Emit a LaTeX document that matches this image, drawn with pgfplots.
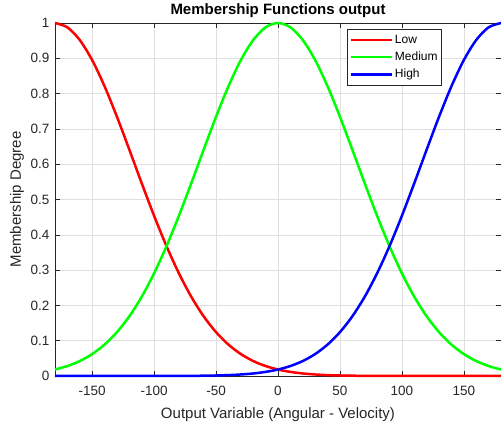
\documentclass[border=0pt]{standalone}
\usepackage{pgfplots}
\pgfplotsset{compat=1.18}
\usepackage{pgfplotstable}
\usepackage{fontspec}
\setmainfont{Liberation Sans}

\definecolor{axgray}{RGB}{38,38,38}
\definecolor{gridgray}{RGB}{223,223,223}
\definecolor{mfred}{RGB}{255,0,0}
\definecolor{mfgreen}{RGB}{0,255,0}
\definecolor{mfblue}{RGB}{0,0,255}

% Gaussian membership functions (sigma about 63.6) sampled every 10 units
\pgfplotstableread{
x     low      med      high
-180  1        0.01832  0
-170  0.98773  0.02822  0
-160  0.95182  0.04240  0
-150  0.89484  0.06218  0
-140  0.82075  0.08894  0
-130  0.73444  0.12413  0
-120  0.64118  0.16901  0.00001
-110  0.54611  0.22451  0.00003
-100  0.45379  0.29096  0.00006
-90   0.36788  0.36788  0.00012
-80   0.29096  0.45379  0.00024
-70   0.22451  0.54611  0.00045
-60   0.16901  0.64118  0.00082
-50   0.12413  0.73444  0.00146
-40   0.08894  0.82075  0.00254
-30   0.06218  0.89484  0.00432
-20   0.04240  0.95182  0.00717
-10   0.02822  0.98773  0.01160
0     0.01832  1        0.01832
10    0.01160  0.98773  0.02822
20    0.00717  0.95182  0.04240
30    0.00432  0.89484  0.06218
40    0.00254  0.82075  0.08894
50    0.00146  0.73444  0.12413
60    0.00082  0.64118  0.16901
70    0.00045  0.54611  0.22451
80    0.00024  0.45379  0.29096
90    0.00012  0.36788  0.36788
100   0.00006  0.29096  0.45379
110   0.00003  0.22451  0.54611
120   0.00001  0.16901  0.64118
130   0        0.12413  0.73444
140   0        0.08894  0.82075
150   0        0.06218  0.89484
160   0        0.04240  0.95182
170   0        0.02822  0.98773
180   0        0.01832  1
}\mfdata

\begin{document}
\begin{tikzpicture}
\useasboundingbox (0pt,0pt) rectangle (501pt,423pt);
\begin{axis}[
  at={(55pt,47pt)}, anchor=south west,
  width=446pt, height=353pt, scale only axis,
  xmin=-180, xmax=180, ymin=0, ymax=1,
  clip=false,
  xtick={-150,-100,-50,0,50,100,150},
  ytick={0,0.1,0.2,0.3,0.4,0.5,0.6,0.7,0.8,0.9,1},
  yticklabels={0,0.1,0.2,0.3,0.4,0.5,0.6,0.7,0.8,0.9,1},
  /pgf/number format/assume math mode=true,
  tick align=inside,
  major tick length=5pt,
  tick style={axgray, line width=0.5pt},
  axis line style={axgray, line width=0.6pt},
  grid=major,
  major grid style={gridgray, line width=0.5pt},
  ticklabel style={font=\fontsize{13.5}{16}\selectfont, text=axgray},
  xticklabel style={yshift=-7pt},
  yticklabel style={xshift=-2pt},
  every axis title shift=0pt,
  title={Membership Functions output},
  title style={font=\fontsize{15}{18}\selectfont\bfseries, at={(axis description cs:0.5,1.034)}, anchor=center},
  xlabel={Output Variable (Angular - Velocity)},
  xlabel style={font=\fontsize{15}{18}\selectfont, text=axgray, at={(axis description cs:0.5,-0.108)}, anchor=center},
  ylabel={Membership Degree},
  ylabel style={font=\fontsize{15}{18}\selectfont, text=axgray, at={(axis description cs:-0.085,0.5)}, anchor=center},
  legend style={at={(axis description cs:0.655,0.983)}, anchor=north west,
    draw=axgray, line width=0.6pt, fill=white,
    font=\fontsize{12}{14}\selectfont,
    inner xsep=2pt, inner ysep=2.5pt,
    row sep=0pt,
    nodes={inner xsep=2pt, inner ysep=3.5pt}},
  legend cell align=left,
  legend image code/.code={\draw[#1] (0pt,0pt) -- (41pt,0pt);},
]
\addplot[mfred, line width=2.5pt, smooth] table[x=x, y=low] {\mfdata};
\addlegendentry{Low}
\addplot[mfgreen, line width=2.5pt, smooth] table[x=x, y=med] {\mfdata};
\addlegendentry{Medium}
\addplot[mfblue, line width=2.5pt, smooth] table[x=x, y=high] {\mfdata};
\addlegendentry{High}
\end{axis}
\end{tikzpicture}
\end{document}
